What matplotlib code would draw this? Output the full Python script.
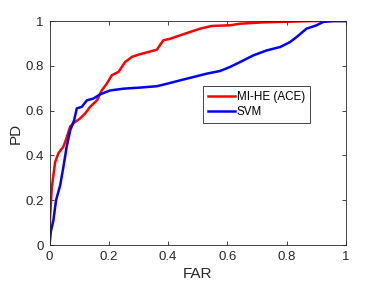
import matplotlib
matplotlib.use("Agg")
import matplotlib.pyplot as plt

plt.rcParams['font.family'] = ['Liberation Sans', 'DejaVu Sans']

# ROC points
mihe_far = [0, 0.002, 0.008, 0.019, 0.03, 0.047, 0.058, 0.07, 0.087, 0.103, 0.12, 0.137,
            0.16, 0.176, 0.193, 0.21, 0.233, 0.255, 0.278, 0.3, 0.334, 0.362, 0.384,
            0.407, 0.44, 0.474, 0.508, 0.547, 0.609, 0.643, 0.72, 0.89, 1.0]
mihe_pd = [0, 0.126, 0.26, 0.37, 0.41, 0.44, 0.48, 0.53, 0.55, 0.565, 0.587, 0.617,
           0.646, 0.69, 0.72, 0.758, 0.773, 0.817, 0.84, 0.85, 0.862, 0.872, 0.914,
           0.921, 0.936, 0.951, 0.966, 0.978, 0.981, 0.988, 0.994, 1.0, 1.0]

svm_far = [0, 0.0045, 0.013, 0.022, 0.036, 0.047, 0.058, 0.07, 0.083, 0.092, 0.109,
           0.126, 0.148, 0.171, 0.204, 0.249, 0.306, 0.362, 0.396, 0.44, 0.485, 0.53,
           0.575, 0.609, 0.643, 0.688, 0.733, 0.778, 0.811, 0.834, 0.867, 0.901,
           0.924, 0.957, 1.0]
svm_pd = [0, 0.06, 0.11, 0.2, 0.267, 0.35, 0.44, 0.513, 0.557, 0.61, 0.617, 0.646,
          0.654, 0.673, 0.69, 0.698, 0.703, 0.709, 0.72, 0.735, 0.75, 0.765, 0.777,
          0.795, 0.817, 0.847, 0.869, 0.884, 0.906, 0.929, 0.966, 0.981, 0.996, 1.0, 1.0]

ticks = [0, 0.2, 0.4, 0.6, 0.8, 1]
tick_labels = ['0', '0.2', '0.4', '0.6', '0.8', '1']

fig = plt.figure(figsize=(3.82, 2.88), dpi=100)
ax = fig.add_axes([0.1296, 0.149, 0.776, 0.778])

ax.plot(mihe_far, mihe_pd, color='#ff0000', lw=1.8, label='MI-HE (ACE)')
ax.plot(svm_far, svm_pd, color='#0000ff', lw=1.8, label='SVM')

ax.set_xlim(0, 1)
ax.set_ylim(0, 1)
ax.set_xticks(ticks)
ax.set_xticklabels(tick_labels)
ax.set_yticks(ticks)
ax.set_yticklabels(tick_labels)
ax.tick_params(direction='in', top=True, right=True, length=3, width=0.6,
               colors='#262626', labelsize=9.5, pad=4)
for s in ax.spines.values():
    s.set_color('#262626')
    s.set_linewidth(0.6)

ax.set_xlabel('FAR', fontsize=11, color='#262626', labelpad=3)
ax.set_ylabel('PD', fontsize=11, color='#262626', labelpad=2)

leg = ax.legend(loc='upper left', bbox_to_anchor=(0.518, 0.71), fontsize=8.4,
                fancybox=False, framealpha=1, edgecolor='#262626',
                handlelength=2.3, handletextpad=0.2, borderpad=0.4, labelspacing=0.3,
                borderaxespad=0)
leg.get_frame().set_linewidth(0.6)

fig.savefig('out.png', dpi=100)
